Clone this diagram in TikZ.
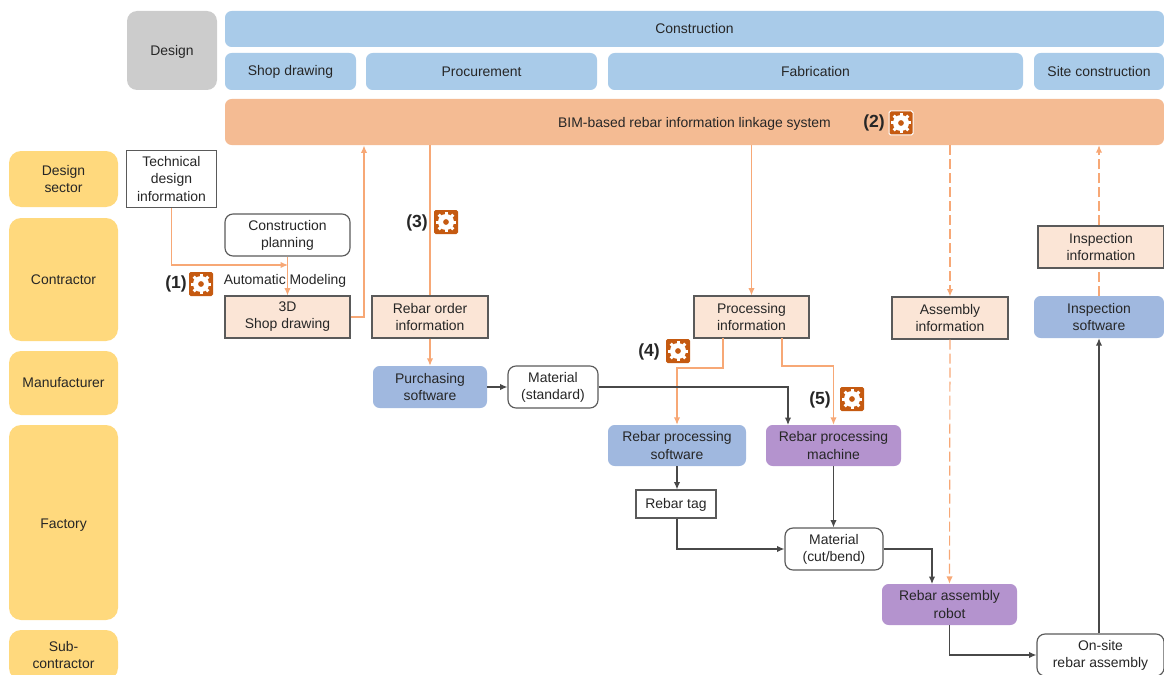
\documentclass[tikz,border=0pt]{standalone}
\usepackage{fontspec}
\setmainfont{Liberation Sans}
\usetikzlibrary{arrows.meta}
\definecolor{cblue}{HTML}{A9CBE9}
\definecolor{cgray}{HTML}{CCCCCC}
\definecolor{cbim}{HTML}{F4BB93}
\definecolor{cyellow}{HTML}{FFD97D}
\definecolor{cpeach}{HTML}{FBE5D6}
\definecolor{csoft}{HTML}{A0B8DF}
\definecolor{cmach}{HTML}{B493CE}
\definecolor{cgear}{HTML}{C55A11}
\definecolor{cline}{HTML}{F7A876}
\definecolor{cedge}{HTML}{5A5A5A}
\definecolor{ctext}{HTML}{262626}

\begin{document}
\begin{tikzpicture}[x=0.03cm, y=-0.03cm]
	\useasboundingbox (0,0) rectangle (1164,675);
	\tikzstyle{every node} = [font=\fontsize{11.9}{14.6}\selectfont, text=ctext, align=center, inner sep=0pt]
	\tikzset{wh/.style 2 args={minimum width=#1*0.03cm, minimum height=#2*0.03cm}}
	\tikzstyle{low} = [text height=0.36cm, text depth=0.09cm]
	\tikzstyle{lower} = [text height=0.42cm, text depth=0.09cm]
	\tikzstyle{phase} = [fill=cblue, rounded corners=0.2cm]
	\tikzstyle{party} = [fill=cyellow, rounded corners=0.36cm]
	\tikzstyle{plain} = [draw=cedge, fill=white, line width=0.035cm]
	\tikzstyle{round} = [plain, rounded corners=0.24cm]
	\tikzstyle{info} = [draw=cedge, fill=cpeach, line width=0.035cm]
	\tikzstyle{soft} = [fill=csoft, rounded corners=0.2cm]
	\tikzstyle{mach} = [fill=cmach, rounded corners=0.2cm]
	\tikzstyle{gearbox} = [fill=cgear, rounded corners=0.05cm, wh={24}{24}]
	\tikzstyle{tag} = [font=\fontsize{15}{17}\selectfont\bfseries]
	\tikzstyle{flow} = [draw=cline, line width=0.035cm]
	\tikzstyle{data} = [flow, -{Latex[length=0.22cm, width=0.19cm]}]
	\tikzstyle{soon} = [flow, dashed, dash pattern=on 0.3cm off 0.12cm]
	\tikzstyle{work} = [draw=cedge!80!black, line width=0.035cm, -{Latex[length=0.22cm, width=0.19cm]}]
	\tikzset{gearicon/.pic={
		\foreach \a in {0,45,...,315}
			\draw [white, line width=0.09cm] (\a:0.17cm)--(\a:0.31cm);
		\fill [white, even odd rule] (0,0) circle (0.24cm) (0,0) circle (0.09cm);
	}}

	\node [lower, wh={90}{79}, fill=cgray, rounded corners=0.3cm] (design) at (172, 50.5) {Design};
	\node [low, phase, wh={939}{36}] (constr) at (694.5, 29) {Construction};
	\node [low, phase, wh={131}{37}] (pshop) at (290.5, 71.5) {Shop drawing};
	\node [phase, wh={231}{37}] (pproc) at (481.5, 71.5) {Procurement};
	\node [phase, wh={415}{37}] (pfab) at (815.5, 71.5) {Fabrication};
	\node [phase, wh={130}{37}] (psite) at (1099, 71.5) {Site construction};
	\node [lower, wh={939}{46}, fill=cbim, rounded corners=0.2cm] (bim) at (694.5, 122) {BIM-based rebar information linkage system};

	\node [party, wh={109}{56}] (sdesign) at (63.5, 179) {Design\\sector};
	\node [party, wh={109}{123}] (scontr) at (63.5, 279.5) {Contractor};
	\node [low, party, wh={109}{64}] (smanu) at (63.5, 383) {Manufacturer};
	\node [lower, party, wh={109}{195}] (sfact) at (63.5, 522.5) {Factory};
	\node [party, wh={109}{50}] (ssub) at (63.5, 655) {Sub-\\contractor};

	\node [plain, wh={90}{57}] (tech) at (171.5, 179) {Technical\\design\\information};
	\node [round, wh={125}{42}] (plan) at (287.5, 235) {Construction\\planning};
	\node [info, wh={125}{42}] (shop3d) at (287.5, 317) {3D\\Shop drawing};
	\node [info, wh={116}{42}] (order) at (430, 317) {Rebar order\\information};
	\node [info, wh={115}{42}] (procinfo) at (751.5, 317) {Processing\\information};
	\node [info, wh={116}{42}] (assyinfo) at (950, 318) {Assembly\\information};
	\node [info, wh={126}{42}] (inspinfo) at (1101, 247) {Inspection\\information};
	\node [soft, wh={130}{42}] (inspsoft) at (1099, 317) {Inspection\\software};
	\node [soft, wh={114}{42}] (buy) at (430, 387) {Purchasing\\software};
	\node [round, wh={90}{42}] (matstd) at (553, 387) {Material\\(standard)};
	\node [soft, wh={138}{41}] (rebarsoft) at (677, 445.5) {Rebar processing\\software};
	\node [mach, wh={135}{41}] (rebarmach) at (833.5, 445.5) {Rebar processing\\machine};
	\node [low, plain, wh={80}{28}] (rebartag) at (676, 504) {Rebar tag};
	\node [round, wh={98}{42}] (matcut) at (834, 549) {Material\\(cut/bend)};
	\node [mach, wh={135}{41}] (robot) at (949.5, 604.5) {Rebar assembly\\robot};
	\node [round, wh={127}{42}] (onsite) at (1100.5, 655) {On-site\\rebar assembly};

	\node (automod) at (285, 281) {Automatic Modeling};
	\node [tag] (lab1) at (176, 284) {(1)};
	\node [gearbox] (gear1) at (201, 284) {};
	\node [tag] (lab2) at (874, 123) {(2)};
	\node [gearbox, draw=white, line width=0.03cm] (gear2) at (901, 123) {};
	\node [tag] (lab3) at (417, 223) {(3)};
	\node [gearbox] (gear3) at (446, 222) {};
	\node [tag] (lab4) at (649, 352) {(4)};
	\node [gearbox] (gear4) at (678, 351) {};
	\node [tag] (lab5) at (820, 400) {(5)};
	\node [gearbox] (gear5) at (852, 399) {};
	\foreach \g in {gear1,gear2,gear3,gear4,gear5}
		\pic at (\g) {gearicon};

	\coordinate (join) at (288, 265);
	\coordinate (bimshop) at (364, 145.5);
	\coordinate (cuttop) at (932, 584);
	\coordinate (machtop) at (788, 425);
	\draw [data] (tech.south)|-(join);
	\draw [data] (plan.south)--(shop3d.north);
	\draw [data] (shop3d.east)-|(bimshop);
	\draw [flow] (bim.south -| order.north)--(order.north);
	\draw [data] (order.south)--(buy.north);
	\draw [data] (bim.south -| procinfo.north)--(procinfo.north);
	\draw [data] (723, 338)--(723, 368)--(677, 368)--(rebarsoft.north);
	\draw [data] (782, 338)--(782, 366)--(833.5, 366)--(rebarmach.north);
	\draw [soon, -{Latex[length=0.22cm, width=0.19cm]}] (bim.south -| assyinfo.north)--(assyinfo.north);
	\draw [soon, -{Latex[length=0.22cm, width=0.19cm]}] (assyinfo.south)--(robot.north);
	\draw [soon] (inspsoft.north)--(inspsoft.north |- inspinfo.south);
	\draw [soon, -{Latex[length=0.22cm, width=0.19cm]}] (inspsoft.north |- inspinfo.north)--(inspsoft.north |- bim.south);
	\draw [work] (buy.east)--(matstd.west);
	\draw [work] (matstd.east)-|(machtop);
	\draw [work] (rebarsoft.south)--(rebartag.north -| rebarsoft.south);
	\draw [work] (rebarmach.south)--(matcut.north -| rebarmach.south);
	\draw [work] (rebartag.south -| rebarsoft.south)|-(matcut.west);
	\draw [work] (matcut.east)-|(cuttop);
	\draw [work] (robot.south)|-(onsite.west);
	\draw [work] (onsite.north -| inspsoft.south)--(inspsoft.south);
\end{tikzpicture}
\end{document}
